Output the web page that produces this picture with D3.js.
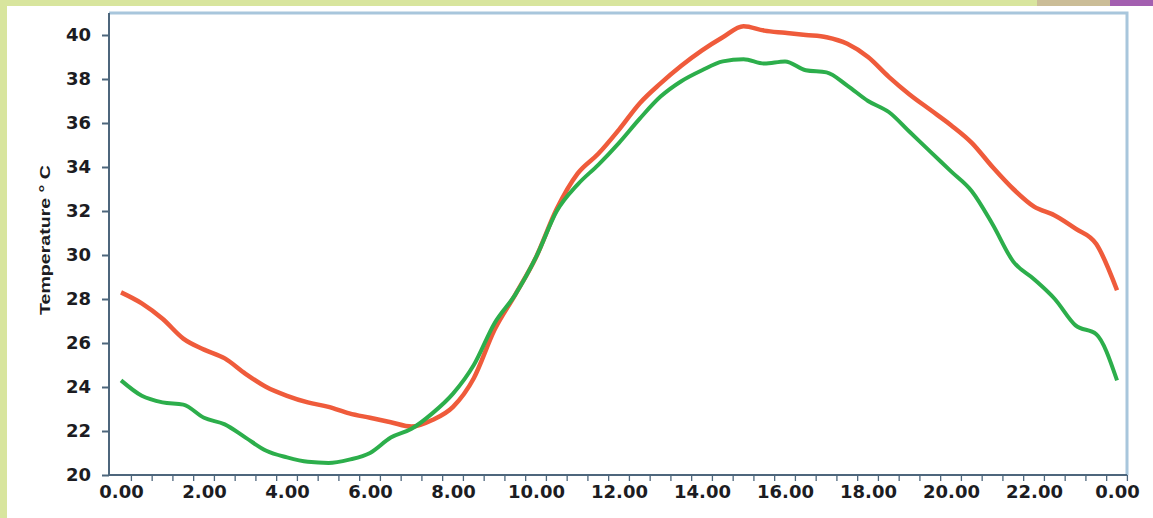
<!DOCTYPE html>
<html>
<head>
<meta charset="utf-8">
<script src="https://cdn.jsdelivr.net/npm/d3@7"></script>
<style>
  html, body { margin: 0; padding: 0; background: #d8e59e; }
  #diagram { display: block; }
</style>
</head>
<body>
<svg id="diagram" width="1153" height="518"></svg>
<script>
// hours of the day, every half hour
var hours = d3.range(0, 24.5, 0.5);

var redTemp = [28.3, 27.8, 27.1, 26.2, 25.7, 25.3, 24.6, 24.0, 23.6, 23.3,
	23.1, 22.8, 22.6, 22.4, 22.2, 22.5, 23.1, 24.4, 26.6, 28.2,
	29.9, 32.1, 33.7, 34.6, 35.7, 36.9, 37.8, 38.6, 39.3, 39.9,
	40.4, 40.2, 40.1, 40.0, 39.9, 39.6, 39.0, 38.1, 37.3, 36.6,
	35.9, 35.1, 34.0, 33.0, 32.2, 31.8, 31.2, 30.5, 28.4];

var greenTemp = [24.3, 23.6, 23.3, 23.2, 22.6, 22.3, 21.7, 21.1, 20.8, 20.6,
	20.55, 20.7, 21.0, 21.7, 22.1, 22.8, 23.7, 25.0, 26.9, 28.2,
	29.9, 32.0, 33.2, 34.1, 35.1, 36.2, 37.2, 37.9, 38.4, 38.8,
	38.9, 38.7, 38.8, 38.4, 38.3, 37.7, 37.0, 36.5, 35.6, 34.7,
	33.8, 32.9, 31.4, 29.7, 28.9, 28.0, 26.8, 26.4, 24.3];

var xTickValues = [0, 2, 4, 6, 8, 10, 12, 14, 16, 18, 20, 22, 24];
var xTickLabels = ["0.00", "2.00", "4.00", "6.00", "8.00", "10.00", "12.00",
	"14.00", "16.00", "18.00", "20.00", "22.00", "0.00"];
var yTickValues = [20, 22, 24, 26, 28, 30, 32, 34, 36, 38, 40];
var minorTicks = d3.range(0.25, 24.5, 0.5);

var svg = d3.select("#diagram");

// page background pieces
svg.append("rect").attr("x", 7).attr("y", 6).attr("width", 1146).attr("height", 512).style("fill", "#ffffff");
svg.append("rect").attr("x", 1037).attr("y", 0).attr("width", 73).attr("height", 6).style("fill", "#cbbd97");
svg.append("rect").attr("x", 1110).attr("y", 0).attr("width", 43).attr("height", 6).style("fill", "#a35fb0");

var x = d3.scaleLinear().domain([-0.29, 24.24]).range([109, 1127]);
var y = d3.scaleLinear().domain([20, 40]).range([475, 35]);

// frame (top and right in light blue)
svg.append("path")
	.attr("d", "M109," + y(41) + "H1127V475")
	.style("fill", "none")
	.style("stroke", "#a8c6dc")
	.style("stroke-width", 3);

// y axis
var yAxis = svg.append("g")
	.attr("transform", "translate(109,0)")
	.call(d3.axisLeft(y).tickValues(yTickValues).tickSize(7).tickPadding(11).tickFormat(d3.format("d")));
yAxis.select(".domain").attr("d", "M0," + y(41) + "V475");

// x axis, labels on the even hours
var xAxis = svg.append("g")
	.attr("transform", "translate(0,475)")
	.call(d3.axisBottom(x).tickValues(xTickValues).tickSize(0).tickPadding(10)
		.tickFormat(function(d, i) { return xTickLabels[i]; }));
xAxis.select(".domain").attr("d", "M109,0H1127");

// little ticks every half hour
svg.append("g").selectAll("line")
	.data(minorTicks).enter().append("line")
	.attr("x1", function(d) { return x(d); })
	.attr("x2", function(d) { return x(d); })
	.attr("y1", 475)
	.attr("y2", 481)
	.style("stroke", "#4d667c")
	.style("stroke-width", 1.3);

svg.selectAll(".domain, .tick line")
	.style("stroke", "#4d667c")
	.style("stroke-width", 2);

svg.selectAll(".tick text")
	.style("font-family", "DejaVu Sans")
	.style("font-weight", "bold")
	.style("font-size", "18px")
	.style("fill", "#1c1c22");

svg.append("text")
	.attr("transform", "translate(50,240) rotate(-90)")
	.attr("text-anchor", "middle")
	.attr("textLength", 150)
	.attr("lengthAdjust", "spacingAndGlyphs")
	.style("font-family", "Liberation Sans")
	.style("font-weight", "bold")
	.style("font-size", "15px")
	.style("fill", "#1c1c22")
	.text("Temperature ° C");

var line = d3.line()
	.x(function(d) { return x(d[0]); })
	.y(function(d) { return y(d[1]); })
	.curve(d3.curveMonotoneX);

svg.append("path")
	.datum(hours.map(function(h, i) { return [h, redTemp[i]]; }))
	.attr("d", line)
	.style("fill", "none")
	.style("stroke", "#ef5b3b")
	.style("stroke-width", 4.5)
	.style("stroke-linejoin", "round");

svg.append("path")
	.datum(hours.map(function(h, i) { return [h, greenTemp[i]]; }))
	.attr("d", line)
	.style("fill", "none")
	.style("stroke", "#2cae4b")
	.style("stroke-width", 4)
	.style("stroke-linejoin", "round");
</script>
</body>
</html>
